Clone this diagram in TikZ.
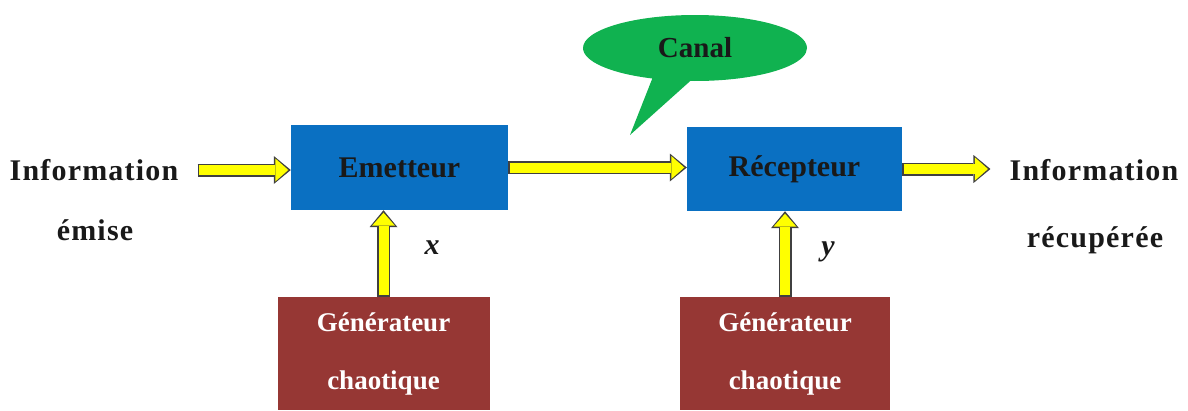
\documentclass[tikz,border=0pt]{standalone}
\usepackage{fontspec}
\setmainfont{Liberation Serif}
\usetikzlibrary{arrows.meta,shapes.callouts}
\definecolor{boxblue}{RGB}{10,112,194}
\definecolor{genred}{RGB}{150,55,52}
\definecolor{canalgreen}{RGB}{16,178,80}
\definecolor{flowyellow}{RGB}{255,255,0}
\tikzset{
  bloc/.style={fill=boxblue, minimum width=217pt, minimum height=85pt, text=black!90,
    font=\fontsize{30}{36}\selectfont\bfseries},
  gen/.style={fill=genred, minimum width=212pt, minimum height=113pt, align=center, text=white,
    font=\fontsize{27}{58}\selectfont\bfseries},
  info/.style={font=\fontsize{30}{36}\selectfont\bfseries\addfontfeature{LetterSpace=4},
    text=black!90, inner xsep=19pt},
  flow/.style={draw=black!75, line width=13pt, -{Triangle[width=28pt,length=17pt,line width=0pt]},
    postaction={draw=flowyellow, line width=10pt, shorten <=1.5pt, shorten >=2.5pt,
      -{Triangle[width=23pt,length=13pt,line width=0pt]}}}
}

\begin{document}
\begin{tikzpicture}[x=1pt,y=-1pt]
		%%%%% START %%%%%
		\useasboundingbox (0,0) rectangle (1188,410);
		
		\node[ellipse callout, fill=canalgreen, minimum width=224pt, minimum height=66pt,
		  callout absolute pointer={(630,135)}, callout pointer arc=20,
		  font=\fontsize{29}{34}\selectfont\bfseries, text=black!90] (canal) at (695,48) {Canal};
		
		\node[bloc] (emet) at (399.5,167.5) {Emetteur};
		\node[bloc, minimum width=215pt, minimum height=84pt] (recep) at (794.5,169) {Récepteur};
		
		\node[gen] (gen1) at (383.5,353.5) {Générateur\\chaotique};
		\node[gen, minimum width=210pt] (gen2) at (785,353.5) {Générateur\\chaotique};
		
		\node[info] (infoL) at (94,170) {Information};
		\node[info] (emise) at (95,230) {émise};
		\node[info] (infoR) at (1094,170) {Information};
		\node[info] (recup) at (1095,240) {récupérée};
		
		\node[info] (labx) at (432,248) {\itshape x};
		\node[info] (laby) at (828,252) {\itshape y};
		
		\draw[flow] (infoL.east) -- (infoL.east -| emet.west);
		\draw[flow] (emet.east) -- (emet.east -| recep.west);
		\draw[flow] (recep.east) -- (recep.east -| infoR.west);
		
		\draw[flow] (gen1.north) -- (gen1.north |- emet.south);
		\draw[flow] (gen2.north) -- (gen2.north |- recep.south);
		
		%%%%% END %%%%%
\end{tikzpicture}
\end{document}
